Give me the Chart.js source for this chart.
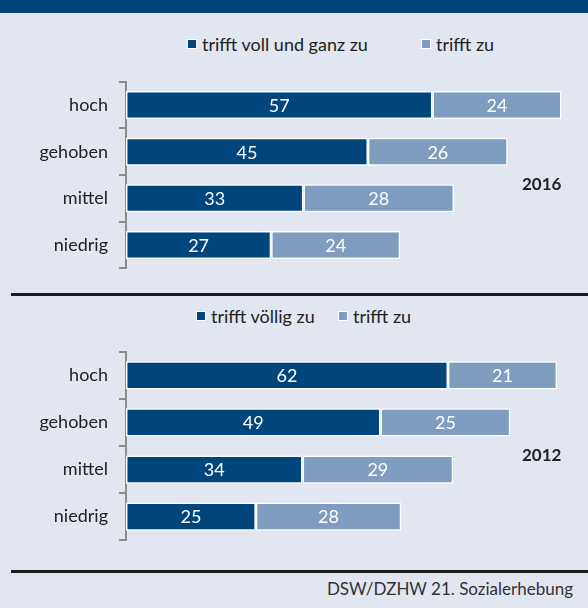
<!DOCTYPE html>
<html>
<head>
<meta charset="utf-8">
<script src="https://cdn.jsdelivr.net/npm/chart.js@4/dist/chart.umd.min.js"></script>
<style>
    body { margin: 0; background: #e1e6f0; }
    #page { position: relative; width: 588px; height: 608px; overflow: hidden; background: #e1e6f0; font-family: Lato, "Open Sans", sans-serif; color: #222; }
    .band { position: absolute; left: 0; top: 0; width: 588px; height: 13px; background: #00457b; }
    .rule { position: absolute; left: 11px; right: 0; height: 3px; background: #1d1d20; }
    .legend-item { position: absolute; display: flex; align-items: center; font-size: 18px; white-space: nowrap; height: 20px; }
    .legend-item .box { display: inline-block; width: 8px; height: 8px; border: 1px solid #fff; margin-right: 5px; }
    .year { position: absolute; font-weight: bold; font-size: 17px; }
    .source { position: absolute; right: 15px; top: 578px; font-size: 17px; color: #333; }
    .wrap { position: absolute; left: 0; width: 588px; }
</style>
</head>
<body>
<div id="page">
    <div class="band"></div>
    <div class="wrap" style="top:60px;height:230px"><canvas id="chart2016"></canvas></div>
    <div class="rule" style="top:293px"></div>
    <div class="wrap" style="top:330px;height:232px"><canvas id="chart2012"></canvas></div>
    <div class="rule" style="top:570px"></div>
    <div class="year" style="left:522px;top:173px">2016</div>
    <div class="year" style="left:522px;top:444px">2012</div>
    <div class="source">DSW/DZHW 21. Sozialerhebung</div>
</div>
<script>
const categories = ["hoch", "gehoben", "mittel", "niedrig"];

const legend2016 = ["trifft voll und ganz zu", "trifft zu"];
const voll2016 = [57, 45, 33, 27];
const zu2016 = [24, 26, 28, 24];

const legend2012 = ["trifft völlig zu", "trifft zu"];
const voellig2012 = [62, 49, 34, 25];
const zu2012 = [21, 25, 29, 28];

const DARK = "#00457b";
const LIGHT = "#7f9dc0";
const FONT = "Lato, 'Open Sans', sans-serif";

// values written in the middle of each bar segment
const valueLabels = {
    id: "valueLabels",
    afterDatasetsDraw(chart) {
        const ctx = chart.ctx;
        ctx.save();
        ctx.fillStyle = "#fff";
        ctx.font = "18px " + FONT;
        ctx.textAlign = "center";
        ctx.textBaseline = "middle";
        chart.data.datasets.forEach((ds, i) => {
            chart.getDatasetMeta(i).data.forEach((bar, j) => {
                const p = bar.getProps(["x", "y", "base"], true);
                ctx.fillText(ds.data[j], (p.x + p.base) / 2, p.y + 1);
            });
        });
        ctx.restore();
    }
};

function makeChart(id, names, first, second, xMax, pad) {
    const ctx = document.getElementById(id).getContext("2d");
    return new Chart(ctx, {
        type: "bar",
        data: {
            labels: categories,
            datasets: [
                { label: names[0], data: first, backgroundColor: DARK },
                { label: names[1], data: second, backgroundColor: LIGHT }
            ]
        },
        options: {
            indexAxis: "y",
            responsive: true,
            maintainAspectRatio: false,
            animation: false,
            datasets: {
                bar: {
                    borderColor: "#fff",
                    borderWidth: 1.5,
                    borderSkipped: false,
                    barPercentage: 0.6,
                    categoryPercentage: 1
                }
            },
            layout: { padding: { top: pad[0], bottom: pad[1], right: 5, left: 0 } },
            plugins: {
                legend: { display: false },
                tooltip: { enabled: false }
            },
            scales: {
                x: { stacked: true, display: false, min: 0, max: xMax },
                y: {
                    stacked: true,
                    afterFit: s => { s.width = 126; },
                    grid: {
                        offset: true,
                        drawOnChartArea: false,
                        tickLength: 7,
                        color: "#8c8c8c",
                        lineWidth: 2
                    },
                    border: { display: true, color: "#8c8c8c", width: 2 },
                    ticks: { color: "#222", padding: 11, font: { size: 18, family: FONT } }
                }
            }
        },
        plugins: [valueLabels]
    });
}

// legend boxes built from the chart's own datasets
function htmlLegend(chart, lefts, top) {
    const page = document.getElementById("page");
    chart.data.datasets.forEach((ds, i) => {
        const item = document.createElement("div");
        item.className = "legend-item";
        item.style.left = lefts[i] + "px";
        item.style.top = top + "px";
        const box = document.createElement("span");
        box.className = "box";
        box.style.background = ds.backgroundColor;
        item.appendChild(box);
        item.appendChild(document.createTextNode(ds.label));
        page.appendChild(item);
    });
}

const c2016 = makeChart("chart2016", legend2016, voll2016, zu2016, 85, [10, 9]);
const c2012 = makeChart("chart2012", legend2012, voellig2012, zu2012, 88, [12, 10]);

htmlLegend(c2016, [187, 421], 34);
htmlLegend(c2012, [196, 338], 306);
</script>
</body>
</html>
